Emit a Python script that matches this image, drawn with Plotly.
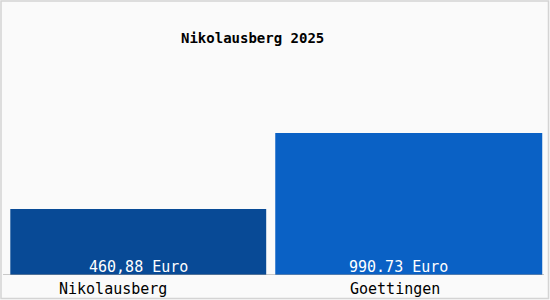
import plotly.graph_objects as go

categories = ["Nikolausberg", "Goettingen"]
values = [460.88, 990.73]
value_labels = ["460,88 Euro", "990.73 Euro"]
title_text = "Nikolausberg 2025"

bar_colors = ["#084a96", "#0a61c5"]
bar_widths = [0.946, 0.987]
value_shift = [0, -10]
cat_shift = [-25, -14]

W, H = 550, 300
ML, MR, MT, MB = 3, 6, 60, 25

fig = go.Figure()
fig.add_trace(go.Bar(
    x=categories, y=values, width=bar_widths,
    marker=dict(color=bar_colors, line=dict(width=0)),
    hoverinfo="skip",
))

font_family = "DejaVu Sans Mono"
annotations = []
for c, lbl, s in zip(categories, value_labels, value_shift):
    annotations.append(dict(
        x=c, y=0, xref="x", yref="y", text=lbl, showarrow=False,
        yanchor="bottom", xanchor="center", xshift=s, yshift=-3,
        font=dict(family=font_family, size=15, color="white"),
    ))
for c, s in zip(categories, cat_shift):
    annotations.append(dict(
        x=c, y=0, xref="x", yref="paper", text=c, showarrow=False,
        yanchor="top", xanchor="center", xshift=s, yshift=-3,
        font=dict(family=font_family, size=15, color="black"),
    ))
pw = W - ML - MR
ph = H - MT - MB
annotations.append(dict(
    x=(252.5 - ML) / pw, y=(H - MB - 38) / ph,
    xref="paper", yref="paper", text="<b>" + title_text + "</b>", showarrow=False,
    xanchor="center", yanchor="middle",
    font=dict(family=font_family, size=14, color="black"),
))

shapes = [
    dict(type="rect", xref="paper", yref="paper",
         x0=(1 - ML) / pw, x1=(548.5 - ML) / pw,
         y0=(H - MB - 298.5) / ph, y1=(H - MB - 1) / ph,
         line=dict(color="#d4d4d4", width=1.5), layer="below"),
    dict(type="line", xref="paper", yref="y", x0=0, x1=1, y0=0, y1=0,
         line=dict(color="#999999", width=1)),
]

fig.update_layout(
    width=W, height=H,
    margin=dict(l=ML, r=MR, t=MT, b=MB, pad=0),
    paper_bgcolor="#fafafa", plot_bgcolor="#fafafa",
    showlegend=False,
    xaxis=dict(showticklabels=False, showgrid=False, zeroline=False, showline=False, ticks=""),
    yaxis=dict(range=[0, 1500], showticklabels=False, showgrid=False, zeroline=False, showline=False, ticks=""),
    annotations=annotations,
    shapes=shapes,
)

fig.write_html("out.html")
